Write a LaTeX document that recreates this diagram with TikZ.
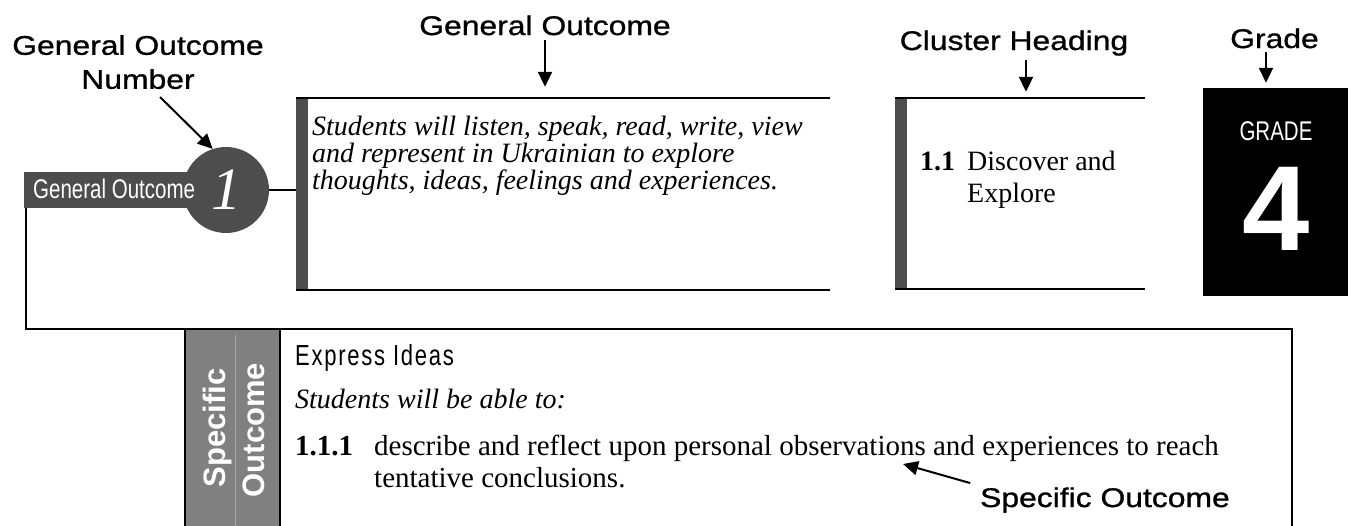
\documentclass[tikz,border=0pt]{standalone}
\usepackage{fontspec}
\setmainfont{Liberation Serif}
\newfontfamily\labelfont[FakeStretch=1.18,FakeBold=1]{Liberation Sans}
\newfontfamily\narrowfont[FakeStretch=0.76]{Liberation Sans}
\newfontfamily\spacedfont[FakeStretch=0.76,LetterSpace=6]{Liberation Sans}
\newfontfamily\headfont{Liberation Sans}
\usetikzlibrary{arrows.meta,calc}
\definecolor{bargray}{HTML}{4D4D4D}
\definecolor{sidegray}{HTML}{808080}
\definecolor{rulegray}{HTML}{A8A8A8}

\tikzset{
  lbl/.style={font=\labelfont\fontsize{27}{34}\selectfont, inner sep=2pt},
  arr/.style={-{Triangle[length=15pt,width=14pt]}, line width=2pt},
  frame/.style={inner sep=0pt, minimum width=#1},
  serif/.style={inner sep=0pt, font=\fontsize{28}{32}\selectfont},
  rule/.style={line width=2.5pt},
  link/.style={line width=1.5pt}
}

\begin{document}
\begin{tikzpicture}[x=1pt,y=-1pt]

\useasboundingbox (0,0) rectangle (1354,525);
\clip (0,0) rectangle (1354,525);

\node[lbl, align=center, anchor=north] at (138,33) (numlbl) {General Outcome\\Number};
\node[lbl, anchor=base] at (545,35) (golbl) {General Outcome};
\node[lbl, anchor=base] at (1014,50) (cllbl) {Cluster Heading};
\node[lbl, anchor=base] at (1274.5,48) (grlbl) {Grade};
\node[lbl, anchor=base east] at (1232,507) (solbl) {Specific Outcome};

\node[frame=202pt, minimum height=36pt, fill=bargray] at (125,190) (gobar) {};
\node[circle, fill=bargray, minimum size=86pt, inner sep=0pt, text=white, font=\itshape\fontsize{60}{60}\selectfont] at (226,190) (num) {1};
\node[anchor=base west, inner sep=0pt, text=white, font=\narrowfont\fontsize{27}{30}\selectfont] at (33,198) (gotag) {General Outcome};

\node[frame=534pt, minimum height=192pt] at (563,194) (gobox) {};
\fill[bargray] (gobox.north west) rectangle ([xshift=12pt]gobox.south west);
\draw[rule] (gobox.north west) -- (gobox.north east);
\draw[rule] (gobox.south west) -- (gobox.south east);
\node[serif, anchor=north west, align=left, font=\itshape\fontsize{28}{27}\selectfont] at (312,116) (gotext) {Students will listen, speak, read, write, view\\and represent in Ukrainian to explore\\thoughts, ideas, feelings and experiences.};

\node[frame=250pt, minimum height=191pt] at (1020,193.5) (clbox) {};
\fill[bargray] (clbox.north west) rectangle ([xshift=12pt]clbox.south west);
\draw[rule] (clbox.north west) -- (clbox.north east);
\draw[rule] (clbox.south west) -- (clbox.south east);
\node[serif, anchor=base west, font=\bfseries\fontsize{28}{32}\selectfont] at (920,170) (clnum) {1.1};
\node[serif, anchor=north west, align=left] at (967,151) (cltext) {Discover and\\Explore};

\node[frame=145pt, minimum height=208pt, fill=black] at (1275.5,192) (grbox) {};
\node[anchor=base, inner sep=0pt, text=white, font=\narrowfont\fontsize{27}{30}\selectfont] at (1276,140) (grword) {GRADE};
\node[anchor=base, inner sep=0pt, text=white, font=\headfont\bfseries\fontsize{121}{121}\selectfont] at (1276,250) (grnum) {4};

\node[frame=1107pt, minimum height=230pt] at (738.5,444) (sobox) {};
\fill[sidegray] (sobox.north west) rectangle ([xshift=95pt]sobox.south west);
\draw[rulegray, line width=1pt] ([xshift=51pt,yshift=-6pt]sobox.north west) -- ([xshift=51pt]sobox.south west);
\draw[line width=2pt] (sobox.north west) rectangle (sobox.south east);
\draw[line width=2pt] ([xshift=95pt]sobox.north west) -- ([xshift=95pt]sobox.south west);
\node[rotate=90, text=white, font=\headfont\bfseries\fontsize{31}{34}\selectfont] at (217,428) (sotag1) {Specific};
\node[rotate=90, text=white, font=\headfont\bfseries\fontsize{31}{34}\selectfont] at (254,430) (sotag2) {Outcome};

\node[anchor=base west, inner sep=0pt, font=\spacedfont\fontsize{29}{30}\selectfont] at (295,365) (sohead) {Express Ideas};
\node[serif, anchor=base west, font=\itshape\fontsize{28}{32}\selectfont] at (295,408) (sostem) {Students will be able to:};
\node[serif, anchor=base west, font=\bfseries\fontsize{29}{32}\selectfont] at (295,455) (sonum) {1.1.1};
\node[serif, anchor=north west, align=left, font=\fontsize{29}{32}\selectfont] at (374,435) (sotext) {describe and reflect upon personal observations and experiences to reach\\tentative conclusions.};

\coordinate (numtail) at (160,97);
\coordinate (sotip) at (903,464);

\draw[link] (num.east) -- (num.east -| gobox.west);
\draw[link] ([xshift=2pt]gobar.south west) |- (sobox.north west);

\path[arr,draw] (numtail) -- (num.108);
\path[arr,draw,shorten <=3pt,shorten >=11pt] (golbl.south) -- (golbl.south |- gobox.north);
\path[arr,draw,shorten <=2pt,shorten >=6pt] ([xshift=12pt]cllbl.south) -- ([xshift=12pt]cllbl.south |- clbox.north);
\path[arr,draw,shorten <=2pt,shorten >=5pt] ([xshift=-8.5pt]grlbl.south) -- ([xshift=-8.5pt]grlbl.south |- grbox.north);
\path[arr,draw,shorten <=8pt] (solbl.north west) -- (sotip);

\end{tikzpicture}
\end{document}
